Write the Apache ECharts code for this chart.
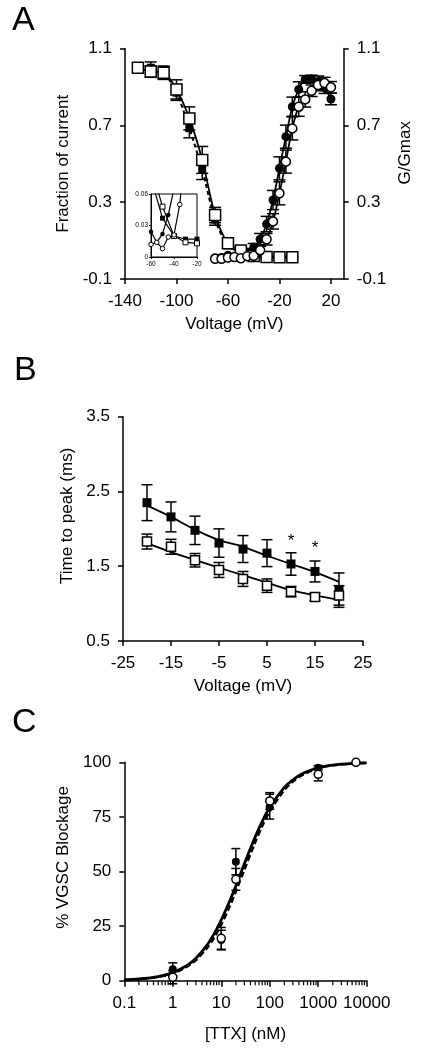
<!DOCTYPE html>
<html><head><meta charset="utf-8">
<script src="https://cdn.jsdelivr.net/npm/echarts@6/dist/echarts.min.js"></script>
<style>html,body{margin:0;padding:0;background:#fff}#c{width:422px;height:1049px}</style>
</head><body><div id="c"></div>
<script>
// ---------- Panel A data ----------
const inactV = [-130,-120,-110,-100,-90,-80,-70,-60,-50,-40,-30,-20,-10];
const inactOpen = [1.0,0.98,0.974,0.887,0.736,0.52,0.233,0.086,0.048,0.02,0.014,0.013,0.013];
const inactOpenErr = [0,0.03,0.035,0.05,0.06,0.07,0.04,0.015,0.008,0.004,0.003,0.003,0.003];
const inactFV = [-130,-120,-110,-100,-90,-80,-70,-60,-50,-40,-30,-20];
const inactFilled = [1.0,1.0,0.975,0.87,0.685,0.468,0.21,0.075,0.037,0.02,0.017,0.017];
const inactFilledErr = [0,0.03,0.03,0.04,0.05,0.05,0.03,0.01,0.006,0.004,0.003,0.003];
const actV = [-70,-65,-60,-55,-50,-45,-40,-35,-30,-25,-20,-15,-10,-5,0,5,10,15,20];
const actFilled = [0.01,0.012,0.024,0.014,0.022,0.04,0.065,0.107,0.186,0.311,0.476,0.641,0.797,0.887,0.939,0.941,0.927,0.896,0.837];
const actFilledErr = [0,0,0,0,0,0.01,0.02,0.03,0.04,0.05,0.06,0.06,0.05,0.04,0.02,0.02,0.03,0.03,0.03];
const actOpen = [0.005,0.005,0.012,0.014,0.008,0.019,0.021,0.05,0.107,0.2,0.346,0.511,0.684,0.797,0.835,0.88,0.91,0.92,0.898];
const actOpenErr = [0,0,0,0,0,0.01,0.01,0.02,0.03,0.04,0.06,0.06,0.06,0.05,0.04,0.03,0.03,0.03,0.03];
const aXTicks = [-140, 20];   // first/last labelled voltage

// ---------- Panel B data ----------
const bV = [-20,-15,-10,-5,0,5,10,15,20];
const bFilled = [2.35,2.16,1.98,1.81,1.73,1.675,1.53,1.43,1.18];
const bFilledErr = [0.24,0.2,0.19,0.19,0.18,0.18,0.15,0.14,0.23];
const bOpen = [1.83,1.76,1.58,1.45,1.33,1.24,1.16,1.09,1.11];
const bOpenErr = [0.1,0.1,0.09,0.1,0.1,0.09,0.07,0.05,0.13];
const bFilledFit = [2.31,2.16,1.99,1.85,1.76,1.64,1.53,1.42,1.29];
const bOpenFit = [1.81,1.69,1.585,1.48,1.38,1.28,1.18,1.11,1.05];
const bSig = ['','','','','','','*','*',''];

// ---------- Panel C data ----------
const cFX = [1,10,20,100,1000];
const cFilled = [5.2,18.6,54.5,79.7,97.5];
const cFilledErr = [3,4.5,6,5.7,1];
const cOX = [1,10,20,100,1000,6000];
const cOpen = [1.6,19.4,46.4,82.3,94.5,100];
const cOpenErr = [3,5,5,3.8,3,0];
const cCurveX = [0.1,0.2,0.5,1,2,3,5,7,10,15,20,30,50,70,100,200,300,500,1000,2000,5000,10000];
const cSolid = [0.4,0.8,1.9,3.7,7.1,10.3,16.1,21.2,27.8,36.6,43.5,53.6,65.8,72.9,79.4,88.5,92.0,95.1,97.5,98.7,99.5,99.7];
const cDashed = [0.3,0.7,1.7,3.3,6.5,9.4,14.7,19.4,25.6,34.1,40.8,50.8,63.3,70.7,77.5,87.3,91.2,94.5,97.2,98.6,99.4,99.7];
const cDecades = [0.1,1,10,100,1000];
const cMinorMult = [2,3,4,5,6,7,8,9];

// ---------- helpers ----------
const FONT = '"Liberation Sans", Arial, Helvetica, sans-serif';
const zip = (xs, ys, es) => xs.map((x, i) => [x, ys[i], es ? es[i] : 0]);
function errRender(capW, lw) {
  return function (params, api) {
    const x = api.value(0), y = api.value(1), e = api.value(2);
    if (!e) return { type: 'group', children: [] };
    const hi = api.coord([x, y + e]), lo = api.coord([x, y - e]);
    const h = capW / 2, st = { stroke: '#000', lineWidth: lw };
    return { type: 'group', children: [
      { type: 'line', shape: { x1: hi[0], y1: hi[1], x2: lo[0], y2: lo[1] }, style: st },
      { type: 'line', shape: { x1: hi[0] - h, y1: hi[1], x2: hi[0] + h, y2: hi[1] }, style: st },
      { type: 'line', shape: { x1: lo[0] - h, y1: lo[1], x2: lo[0] + h, y2: lo[1] }, style: st }
    ]};
  };
}
function errSeries(xi, yi, data, capW) {
  return { type: 'custom', xAxisIndex: xi, yAxisIndex: yi, renderItem: errRender(capW, 1.5),
    data: data, encode: { x: 0, y: 1 }, z: 1, silent: true };
}
const axLine = { onZero: false, lineStyle: { color: '#000', width: 1.5 } };
const axLineThin = { onZero: false, lineStyle: { color: '#000', width: 1 } };
const axTick = { length: 5, lineStyle: { color: '#000', width: 1.5 } };
const lab = (extra) => Object.assign({ color: '#000', fontFamily: FONT, fontSize: 17, margin: 13 }, extra || {});
const nameStyle = (extra) => Object.assign({ color: '#000', fontFamily: FONT, fontSize: 17 }, extra || {});

const minorTicks = [];
cDecades.forEach(d => cMinorMult.forEach(m => minorTicks.push([+(d * m).toPrecision(3), 0])));

const chart = echarts.init(document.getElementById('c'), null, { renderer: 'canvas' });
const option = {
  backgroundColor: '#fff',
  animation: false,
  grid: [
    { left: 125, top: 48.5, width: 232, height: 230.5 },
    { left: 151, top: 194, width: 46, height: 63, show: true, backgroundColor: '#fff', borderColor: '#000', borderWidth: 1, z: 5 },
    { left: 123, top: 416.7, width: 240, height: 224.3 },
    { left: 124.3, top: 762.3, width: 242.4, height: 218.4 }
  ],
  xAxis: [
    { gridIndex: 0, type: 'value', min: -140, max: 30, interval: 40, axisLine: axLine, axisTick: axTick,
      axisLabel: lab({ margin: 14, showMaxLabel: false, formatter: v => (v > aXTicks[1] ? '' : String(v)) }),
      splitLine: { show: false }, name: 'Voltage (mV)', nameLocation: 'middle', nameGap: 37, nameTextStyle: nameStyle() },
    { gridIndex: 1, type: 'value', min: -60, max: -20, interval: 20, z: 6, axisLine: axLineThin,
      axisTick: { length: 2, lineStyle: { color: '#000', width: 1 } },
      axisLabel: { color: '#000', fontFamily: FONT, fontSize: 6.5, margin: 4 }, splitLine: { show: false } },
    { gridIndex: 2, type: 'value', min: -25, max: 25, interval: 10, axisLine: axLine, axisTick: axTick,
      axisLabel: lab({ margin: 14 }), splitLine: { show: false },
      name: 'Voltage (mV)', nameLocation: 'middle', nameGap: 37, nameTextStyle: nameStyle() },
    { gridIndex: 3, type: 'log', logBase: 10, min: 0.1, max: 10000, axisLine: axLine,
      axisTick: { length: 6, lineStyle: { color: '#000', width: 1.5 } },
      axisLabel: lab({ margin: 14, formatter: v => String(v) }), splitLine: { show: false },
      name: '[TTX] (nM)', nameLocation: 'middle', nameGap: 45, nameTextStyle: nameStyle() }
  ],
  yAxis: [
    { gridIndex: 0, type: 'value', min: -0.1, max: 1.1, interval: 0.4, axisLine: axLine, axisTick: axTick,
      axisLabel: lab({ formatter: v => v.toFixed(1) }), splitLine: { show: false },
      name: 'Fraction of current', nameLocation: 'middle', nameGap: 44, nameRotate: 90, nameTextStyle: nameStyle() },
    { gridIndex: 0, type: 'value', position: 'right', min: -0.1, max: 1.1, interval: 0.4, axisLine: axLine, axisTick: axTick,
      axisLabel: lab({ formatter: v => v.toFixed(1) }), splitLine: { show: false },
      name: 'G/Gmax', nameLocation: 'middle', nameGap: 40, nameRotate: 90, nameTextStyle: nameStyle({ padding: [0, 0, 0, 22] }) },
    { gridIndex: 1, type: 'value', min: 0, max: 0.06, interval: 0.03, z: 6, axisLine: axLineThin,
      axisTick: { length: 2, lineStyle: { color: '#000', width: 1 } },
      axisLabel: { color: '#000', fontFamily: FONT, fontSize: 6.5, margin: 3, formatter: v => (v === 0 ? '0' : v.toFixed(2)) },
      splitLine: { show: false } },
    { gridIndex: 2, type: 'value', min: 0.5, max: 3.5, interval: 1, axisLine: axLine, axisTick: axTick,
      axisLabel: lab({ formatter: v => v.toFixed(1) }), splitLine: { show: false },
      name: 'Time to peak (ms)', nameLocation: 'middle', nameGap: 47, nameRotate: 90, nameTextStyle: nameStyle({ padding: [0, 0, 0, 26] }) },
    { gridIndex: 3, type: 'value', min: 0, max: 100, interval: 25, axisLine: axLine, axisTick: axTick,
      axisLabel: lab(), splitLine: { show: false },
      name: '% VGSC Blockage', nameLocation: 'middle', nameGap: 46, nameRotate: 90, nameTextStyle: nameStyle({ padding: [0, 0, 0, 28] }) }
  ],
  graphic: [
    { type: 'text', left: 12, top: 4, style: { text: 'A', font: '34px ' + FONT, fill: '#000' } },
    { type: 'text', left: 14, top: 354, style: { text: 'B', font: '34px ' + FONT, fill: '#000' } },
    { type: 'text', left: 12, top: 706, style: { text: 'C', font: '34px ' + FONT, fill: '#000' } }
  ],
  series: [
    // ----- A main -----
    errSeries(0, 0, zip(inactFV, inactFilled, inactFilledErr), 12),
    errSeries(0, 0, zip(inactV, inactOpen, inactOpenErr), 12),
    errSeries(0, 0, zip(actV, actFilled, actFilledErr), 12),
    errSeries(0, 0, zip(actV, actOpen, actOpenErr), 12),
    { type: 'line', xAxisIndex: 0, yAxisIndex: 0, data: zip(inactFV, inactFilled), smooth: 0.3, z: 2,
      lineStyle: { color: '#000', width: 2, type: [4, 3] }, symbol: 'rect', symbolSize: 8, itemStyle: { color: '#000' } },
    { type: 'line', xAxisIndex: 0, yAxisIndex: 0, data: zip(inactV, inactOpen), smooth: 0.3, z: 3,
      lineStyle: { color: '#000', width: 1.8 }, symbol: 'rect', symbolSize: 11, showAllSymbol: true,
      itemStyle: { color: '#fff', borderColor: '#000', borderWidth: 1.5 } },
    { type: 'line', xAxisIndex: 0, yAxisIndex: 0, data: zip(actV, actFilled), smooth: 0.3, z: 2,
      lineStyle: { color: '#000', width: 1.8 }, symbol: 'circle', symbolSize: 9, showAllSymbol: true, itemStyle: { color: '#000' } },
    { type: 'line', xAxisIndex: 0, yAxisIndex: 0, data: zip(actV, actOpen), smooth: 0.3, z: 3,
      lineStyle: { color: '#000', width: 1.8 }, symbol: 'circle', symbolSize: 9, showAllSymbol: true,
      itemStyle: { color: '#fff', borderColor: '#000', borderWidth: 1.5 } },
    // ----- A inset -----
    { type: 'line', xAxisIndex: 1, yAxisIndex: 2, data: zip(inactFV, inactFilled), z: 7, clip: true,
      lineStyle: { color: '#000', width: 1.2 }, symbol: 'rect', symbolSize: 5, itemStyle: { color: '#000' } },
    { type: 'line', xAxisIndex: 1, yAxisIndex: 2, data: zip(inactV, inactOpen), z: 7, clip: true,
      lineStyle: { color: '#000', width: 1.2 }, symbol: 'rect', symbolSize: 5, itemStyle: { color: '#fff', borderColor: '#000', borderWidth: 1 } },
    { type: 'line', xAxisIndex: 1, yAxisIndex: 2, data: zip(actV, actFilled), z: 7, clip: true,
      lineStyle: { color: '#000', width: 1.2 }, symbol: 'circle', symbolSize: 4.5, itemStyle: { color: '#000' } },
    { type: 'line', xAxisIndex: 1, yAxisIndex: 2, data: zip(actV, actOpen), z: 7, clip: true,
      lineStyle: { color: '#000', width: 1.2 }, symbol: 'circle', symbolSize: 4.5, itemStyle: { color: '#fff', borderColor: '#000', borderWidth: 1 } },
    // ----- B -----
    errSeries(2, 3, zip(bV, bFilled, bFilledErr), 11),
    errSeries(2, 3, zip(bV, bOpen, bOpenErr), 11),
    { type: 'line', xAxisIndex: 2, yAxisIndex: 3, data: zip(bV, bFilledFit), smooth: 0.4, symbol: 'none', z: 2,
      lineStyle: { color: '#000', width: 1.8 } },
    { type: 'line', xAxisIndex: 2, yAxisIndex: 3, data: zip(bV, bOpenFit), smooth: 0.4, symbol: 'none', z: 2,
      lineStyle: { color: '#000', width: 1.8 } },
    { type: 'scatter', xAxisIndex: 2, yAxisIndex: 3, z: 3, symbol: 'rect', symbolSize: 9, itemStyle: { color: '#000', opacity: 1 },
      data: bV.map((x, i) => ({ value: [x, bFilled[i]],
        label: { show: !!bSig[i], formatter: bSig[i] || '', position: 'top', distance: 10, color: '#000', fontFamily: FONT, fontSize: 17 } })) },
    { type: 'scatter', xAxisIndex: 2, yAxisIndex: 3, z: 3, symbol: 'rect', symbolSize: 9,
      itemStyle: { color: '#fff', borderColor: '#000', borderWidth: 1.5, opacity: 1 }, data: zip(bV, bOpen) },
    // ----- C -----
    errSeries(3, 4, zip(cFX, cFilled, cFilledErr), 9),
    errSeries(3, 4, zip(cOX, cOpen, cOpenErr), 9),
    { type: 'line', xAxisIndex: 3, yAxisIndex: 4, data: zip(cCurveX, cSolid), smooth: 0.3, symbol: 'none', z: 2,
      lineStyle: { color: '#000', width: 2.8 } },
    { type: 'line', xAxisIndex: 3, yAxisIndex: 4, data: zip(cCurveX, cDashed), smooth: 0.3, symbol: 'none', z: 2,
      lineStyle: { color: '#000', width: 2.4, type: [6, 3] } },
    { type: 'scatter', xAxisIndex: 3, yAxisIndex: 4, z: 3, symbol: 'circle', symbolSize: 8,
      itemStyle: { color: '#000', opacity: 1 }, data: zip(cFX, cFilled) },
    { type: 'scatter', xAxisIndex: 3, yAxisIndex: 4, z: 3, symbol: 'circle', symbolSize: 8,
      itemStyle: { color: '#fff', borderColor: '#000', borderWidth: 1.5, opacity: 1 }, data: zip(cOX, cOpen) },
    { type: 'scatter', xAxisIndex: 3, yAxisIndex: 4, z: 1, silent: true, clip: false, symbol: 'rect',
      symbolSize: [1.2, 4], symbolOffset: [0, 2.5], itemStyle: { color: '#000', opacity: 1 }, data: minorTicks }
  ]
};
chart.setOption(option);
</script></body></html>
